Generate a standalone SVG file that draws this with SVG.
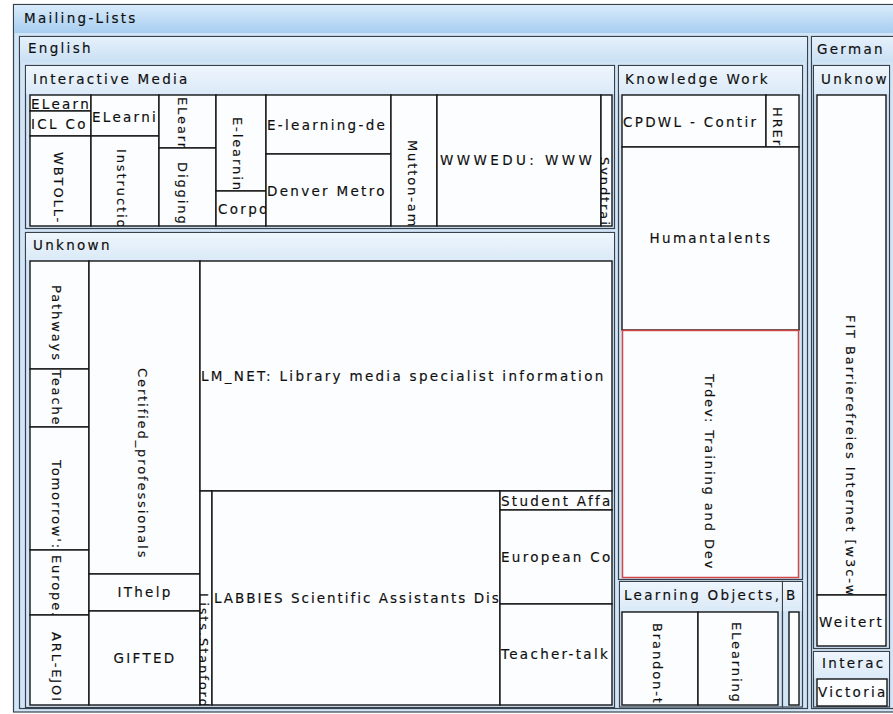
<svg xmlns="http://www.w3.org/2000/svg" width="893" height="714" viewBox="0 0 893 714">
  <defs>
    <linearGradient id="hdrTop" x1="0" y1="0" x2="0" y2="1">
      <stop offset="0" stop-color="#d9ebfa"/>
      <stop offset="1" stop-color="#a6cdf0"/>
    </linearGradient>
    <linearGradient id="hdrMid" x1="0" y1="0" x2="0" y2="1">
      <stop offset="0" stop-color="#e6f1fb"/>
      <stop offset="1" stop-color="#c9e0f5"/>
    </linearGradient>
    <linearGradient id="hdrLow" x1="0" y1="0" x2="0" y2="1">
      <stop offset="0" stop-color="#eef5fc"/>
      <stop offset="1" stop-color="#dbeaf8"/>
    </linearGradient>
  </defs>
  <style>
    .frame { fill: #d2e5f7; stroke: #36414c; stroke-width: 1.2; }
    .cell { fill: #fcfdff; stroke: #141414; stroke-width: 1.4; }
    .sel { fill: #fcfdff; stroke: #d24848; stroke-width: 1.5; }
    .h { font-family: "DejaVu Sans", Verdana, sans-serif; font-size: 13.5px; letter-spacing: 2.3px; fill: #0f0f0f; stroke: #0f0f0f; stroke-width: 0.15; }
    .v { font-family: "DejaVu Sans", Verdana, sans-serif; font-size: 13px; letter-spacing: 1.9px; fill: #0f0f0f; stroke: #0f0f0f; stroke-width: 0.15; }
    .mid { text-anchor: middle; }
    .wide { letter-spacing: 3.4px; }
    .tight { letter-spacing: 2px; }
  </style>

  <!-- group frames -->
  <g id="mailing-lists">
    <rect class="frame" x="13.5" y="4.5" width="900" height="707.5"/>
    <rect x="14" y="5" width="899" height="28" fill="url(#hdrTop)"/>
    <text class="h" x="24" y="22.7">Mailing-Lists</text>
  </g>
  <g id="english">
    <rect class="frame" x="19.5" y="36.5" width="788" height="672"/>
    <rect x="20" y="37" width="787" height="25" fill="url(#hdrMid)"/>
    <text class="h" x="28" y="52.7">English</text>
  </g>
  <g id="german">
    <rect class="frame" x="811.5" y="36.5" width="100" height="672"/>
    <rect x="812" y="37" width="100" height="25" fill="url(#hdrMid)"/>
    <text class="h" x="817" y="53.7">German</text>
  </g>
  <g id="interactive-media">
    <rect class="frame" x="25.5" y="65.5" width="589" height="163"/>
    <rect x="26" y="66" width="588" height="28" fill="url(#hdrLow)"/>
    <text class="h" x="33" y="83.7">Interactive Media</text>
  </g>
  <g id="english-unknown">
    <rect class="frame" x="25.5" y="232.5" width="589" height="475"/>
    <rect x="26" y="233" width="588" height="27" fill="url(#hdrLow)"/>
    <text class="h" x="33" y="249.7">Unknown</text>
  </g>
  <g id="knowledge-work">
    <rect class="frame" x="618.5" y="65.5" width="184" height="514"/>
    <rect x="619" y="66" width="183" height="28" fill="url(#hdrLow)"/>
    <svg x="619" y="66" width="183" height="28" viewBox="619 66 183 28">
      <text class="h" x="625" y="83.7">Knowledge Work</text>
    </svg>
  </g>
  <g id="learning-objects">
    <rect class="frame" x="619.5" y="581.5" width="163" height="125.5"/>
    <rect x="620" y="582" width="162" height="29" fill="url(#hdrLow)"/>
    <svg x="620" y="582" width="162" height="29" viewBox="620 582 162 29">
      <text class="h" x="624" y="599.7">Learning Objects,</text>
    </svg>
  </g>
  <g id="b-group">
    <rect class="frame" x="782.5" y="581.5" width="20" height="125.5"/>
    <rect x="783" y="582" width="19" height="29" fill="url(#hdrLow)"/>
    <svg x="783" y="582" width="19" height="29" viewBox="783 582 19 29">
      <text class="h" x="786" y="599.7">B</text>
    </svg>
  </g>
  <g id="german-unknown">
    <rect class="frame" x="813.5" y="65.5" width="76" height="583"/>
    <rect x="814" y="66" width="75" height="28" fill="url(#hdrLow)"/>
    <svg x="814" y="66" width="75" height="28" viewBox="814 66 75 28">
      <text class="h" x="821" y="83.7">Unknow</text>
    </svg>
  </g>
  <g id="german-interactive">
    <rect class="frame" x="813.5" y="651.5" width="76" height="55.5"/>
    <rect x="814" y="652" width="75" height="26" fill="url(#hdrLow)"/>
    <svg x="814" y="652" width="75" height="26" viewBox="814 652 75 26">
      <text class="h" x="822" y="667.7">Interac</text>
    </svg>
  </g>

  <!-- Interactive Media cells -->
  <g id="elearn-top">
    <rect class="cell" x="30" y="95" width="61" height="16"/>
    <svg x="30" y="95" width="61" height="16" viewBox="30 95 61 16"><text class="h" x="31" y="108.7">ELearn</text></svg>
  </g>
  <g id="icl">
    <rect class="cell" x="30" y="111" width="61" height="25"/>
    <svg x="30" y="111" width="61" height="25" viewBox="30 111 61 25"><text class="h" x="31" y="128.7">ICL Co</text></svg>
  </g>
  <g id="wbtoll">
    <rect class="cell" x="30" y="136" width="61" height="90"/>
    <svg x="30" y="136" width="61" height="90" viewBox="30 136 61 90"><text class="v" transform="translate(54.3,152) rotate(90)">WBTOLL-</text></svg>
  </g>
  <g id="elearni">
    <rect class="cell" x="91" y="95" width="68" height="41"/>
    <svg x="91" y="95" width="68" height="41" viewBox="91 95 68 41"><text class="h" x="92" y="121.7">ELearni</text></svg>
  </g>
  <g id="instructio">
    <rect class="cell" x="91" y="136" width="68" height="90"/>
    <svg x="91" y="136" width="68" height="90" viewBox="91 136 68 90"><text class="v" transform="translate(117.3,149) rotate(90)">Instructio</text></svg>
  </g>
  <g id="elearn-v">
    <rect class="cell" x="159" y="95" width="57" height="53"/>
    <svg x="159" y="95" width="57" height="53" viewBox="159 95 57 53"><text class="v" transform="translate(178.3,97) rotate(90)">ELearn</text></svg>
  </g>
  <g id="digging">
    <rect class="cell" x="159" y="148" width="57" height="78"/>
    <svg x="159" y="148" width="57" height="78" viewBox="159 148 57 78"><text class="v" transform="translate(178.3,162) rotate(90)">Digging</text></svg>
  </g>
  <g id="e-learnin">
    <rect class="cell" x="216" y="95" width="50" height="96"/>
    <svg x="216" y="95" width="50" height="96" viewBox="216 95 50 96"><text class="v" transform="translate(233.3,117) rotate(90)">E-learnin</text></svg>
  </g>
  <g id="corpo">
    <rect class="cell" x="216" y="191" width="50" height="35"/>
    <svg x="216" y="191" width="50" height="35" viewBox="216 191 50 35"><text class="h" x="218" y="213.7">Corpo</text></svg>
  </g>
  <g id="e-learning-de">
    <rect class="cell" x="266" y="95" width="125" height="59"/>
    <svg x="266" y="95" width="125" height="59" viewBox="266 95 125 59"><text class="h" x="267" y="129.7">E-learning-de</text></svg>
  </g>
  <g id="denver">
    <rect class="cell" x="266" y="154" width="125" height="72"/>
    <svg x="266" y="154" width="125" height="72" viewBox="266 154 125 72"><text class="h" x="267" y="195.7">Denver Metro</text></svg>
  </g>
  <g id="mutton">
    <rect class="cell" x="391" y="95" width="46" height="131"/>
    <svg x="391" y="95" width="46" height="131" viewBox="391 95 46 131"><text class="v" transform="translate(408.3,140) rotate(90)">Mutton-am</text></svg>
  </g>
  <g id="wwwedu">
    <rect class="cell" x="437" y="95" width="164" height="131"/>
    <svg x="437" y="95" width="164" height="131" viewBox="437 95 164 131"><text class="h wide" x="440" y="164.7">WWWEDU: WWW</text></svg>
  </g>
  <g id="syndtrain">
    <rect class="cell" x="601" y="95" width="11" height="131"/>
    <svg x="601" y="95" width="11" height="131" viewBox="601 95 11 131"><text class="v" transform="translate(600.3,157) rotate(90)">Syndtrain</text></svg>
  </g>

  <!-- English / Unknown cells -->
  <g id="pathways">
    <rect class="cell" x="30" y="261" width="59" height="108"/>
    <svg x="30" y="261" width="59" height="108" viewBox="30 261 59 108"><text class="v" transform="translate(52.3,285) rotate(90)">Pathways</text></svg>
  </g>
  <g id="teache">
    <rect class="cell" x="30" y="369" width="59" height="58"/>
    <svg x="30" y="369" width="59" height="58" viewBox="30 369 59 58"><text class="v" transform="translate(52.3,370) rotate(90)">Teache</text></svg>
  </g>
  <g id="tomorrow">
    <rect class="cell" x="30" y="427" width="59" height="123"/>
    <svg x="30" y="427" width="59" height="123" viewBox="30 427 59 123"><text class="v" transform="translate(52.3,460) rotate(90)">Tomorrow':</text></svg>
  </g>
  <g id="europe">
    <rect class="cell" x="30" y="550" width="59" height="65"/>
    <svg x="30" y="550" width="59" height="65" viewBox="30 550 59 65"><text class="v" transform="translate(52.3,555) rotate(90)">Europe.</text></svg>
  </g>
  <g id="arl-ejoi">
    <rect class="cell" x="30" y="615" width="59" height="90"/>
    <svg x="30" y="615" width="59" height="90" viewBox="30 615 59 90"><text class="v" transform="translate(52.3,632) rotate(90)">ARL-EJOI</text></svg>
  </g>
  <g id="certified">
    <rect class="cell" x="89" y="261" width="111" height="313"/>
    <svg x="89" y="261" width="111" height="313" viewBox="89 261 111 313"><text class="v" transform="translate(138.3,368) rotate(90)">Certified_professionals</text></svg>
  </g>
  <g id="ithelp">
    <rect class="cell" x="89" y="574" width="111" height="37"/>
    <svg x="89" y="574" width="111" height="37" viewBox="89 574 111 37"><text class="h mid" x="145" y="596.7">IThelp</text></svg>
  </g>
  <g id="gifted">
    <rect class="cell" x="89" y="611" width="111" height="94"/>
    <svg x="89" y="611" width="111" height="94" viewBox="89 611 111 94"><text class="h mid" x="145" y="662.7">GIFTED</text></svg>
  </g>
  <g id="lm-net">
    <rect class="cell" x="200" y="261" width="412" height="230"/>
    <svg x="200" y="261" width="412" height="230" viewBox="200 261 412 230"><text class="h" x="201" y="380.7">LM_NET: Library media specialist information</text></svg>
  </g>
  <g id="lists-stanford">
    <rect class="cell" x="200" y="491" width="12" height="214"/>
    <svg x="200" y="491" width="12" height="214" viewBox="200 491 12 214"><text class="v" transform="translate(199.3,593) rotate(90)">Lists.Stanford</text></svg>
  </g>
  <g id="labbies">
    <rect class="cell" x="212" y="491" width="288" height="214"/>
    <svg x="212" y="491" width="288" height="214" viewBox="212 491 288 214"><text class="h tight" x="214" y="602.7">LABBIES Scientific Assistants Dis</text></svg>
  </g>
  <g id="student-affa">
    <rect class="cell" x="500" y="491" width="112" height="19"/>
    <svg x="500" y="491" width="112" height="19" viewBox="500 491 112 19"><text class="h" x="501" y="505.7">Student Affa</text></svg>
  </g>
  <g id="european-co">
    <rect class="cell" x="500" y="510" width="112" height="94"/>
    <svg x="500" y="510" width="112" height="94" viewBox="500 510 112 94"><text class="h" x="501" y="561.7">European Co</text></svg>
  </g>
  <g id="teacher-talk">
    <rect class="cell" x="500" y="604" width="112" height="101"/>
    <svg x="500" y="604" width="112" height="101" viewBox="500 604 112 101"><text class="h" x="501" y="658.7">Teacher-talk</text></svg>
  </g>

  <!-- Knowledge Work cells -->
  <g id="cpdwl">
    <rect class="cell" x="622" y="95" width="144" height="52"/>
    <svg x="622" y="95" width="144" height="52" viewBox="622 95 144 52"><text class="h" x="623" y="126.7">CPDWL - Contir</text></svg>
  </g>
  <g id="hrer">
    <rect class="cell" x="766" y="95" width="33" height="52"/>
    <svg x="766" y="95" width="33" height="52" viewBox="766 95 33 52"><text class="v" transform="translate(773.3,107) rotate(90)">HREr</text></svg>
  </g>
  <g id="humantalents">
    <rect class="cell" x="622" y="147" width="177" height="183"/>
    <svg x="622" y="147" width="177" height="183" viewBox="622 147 177 183"><text class="h mid" x="711" y="242.7">Humantalents</text></svg>
  </g>
  <g id="trdev">
    <rect class="sel" x="622.5" y="330.5" width="176" height="247"/>
    <svg x="623" y="331" width="175" height="246" viewBox="623 331 175 246"><text class="v" transform="translate(705.3,374) rotate(90)">Trdev: Training and Dev</text></svg>
  </g>

  <!-- Learning Objects cells -->
  <g id="brandon">
    <rect class="cell" x="622" y="612" width="76" height="93"/>
    <svg x="622" y="612" width="76" height="93" viewBox="622 612 76 93"><text class="v" transform="translate(653.3,623) rotate(90)">Brandon-t</text></svg>
  </g>
  <g id="elearningl">
    <rect class="cell" x="698" y="612" width="80" height="93"/>
    <svg x="698" y="612" width="80" height="93" viewBox="698 612 80 93"><text class="v" transform="translate(732.3,622) rotate(90)">ELearningl</text></svg>
  </g>
  <g id="b-cell">
    <rect class="cell" x="789" y="612" width="10" height="93"/>
  </g>

  <!-- German cells -->
  <g id="fit">
    <rect class="cell" x="817" y="95" width="69" height="500"/>
    <svg x="817" y="95" width="69" height="500" viewBox="817 95 69 500"><text class="v" transform="translate(846.3,315) rotate(90)">FIT Barrierefreies Internet [w3c-wa</text></svg>
  </g>
  <g id="weitert">
    <rect class="cell" x="817" y="595" width="69" height="51"/>
    <svg x="817" y="595" width="69" height="51" viewBox="817 595 69 51"><text class="h" x="819" y="626.7">Weitert</text></svg>
  </g>
  <g id="victoria">
    <rect class="cell" x="817" y="679" width="70" height="27"/>
    <svg x="817" y="679" width="70" height="27" viewBox="817 679 70 27"><text class="h" x="818" y="696.7">Victoria</text></svg>
  </g>

  <!-- treemap has no connectors -->
  <g id="connectors"/>
</svg>
